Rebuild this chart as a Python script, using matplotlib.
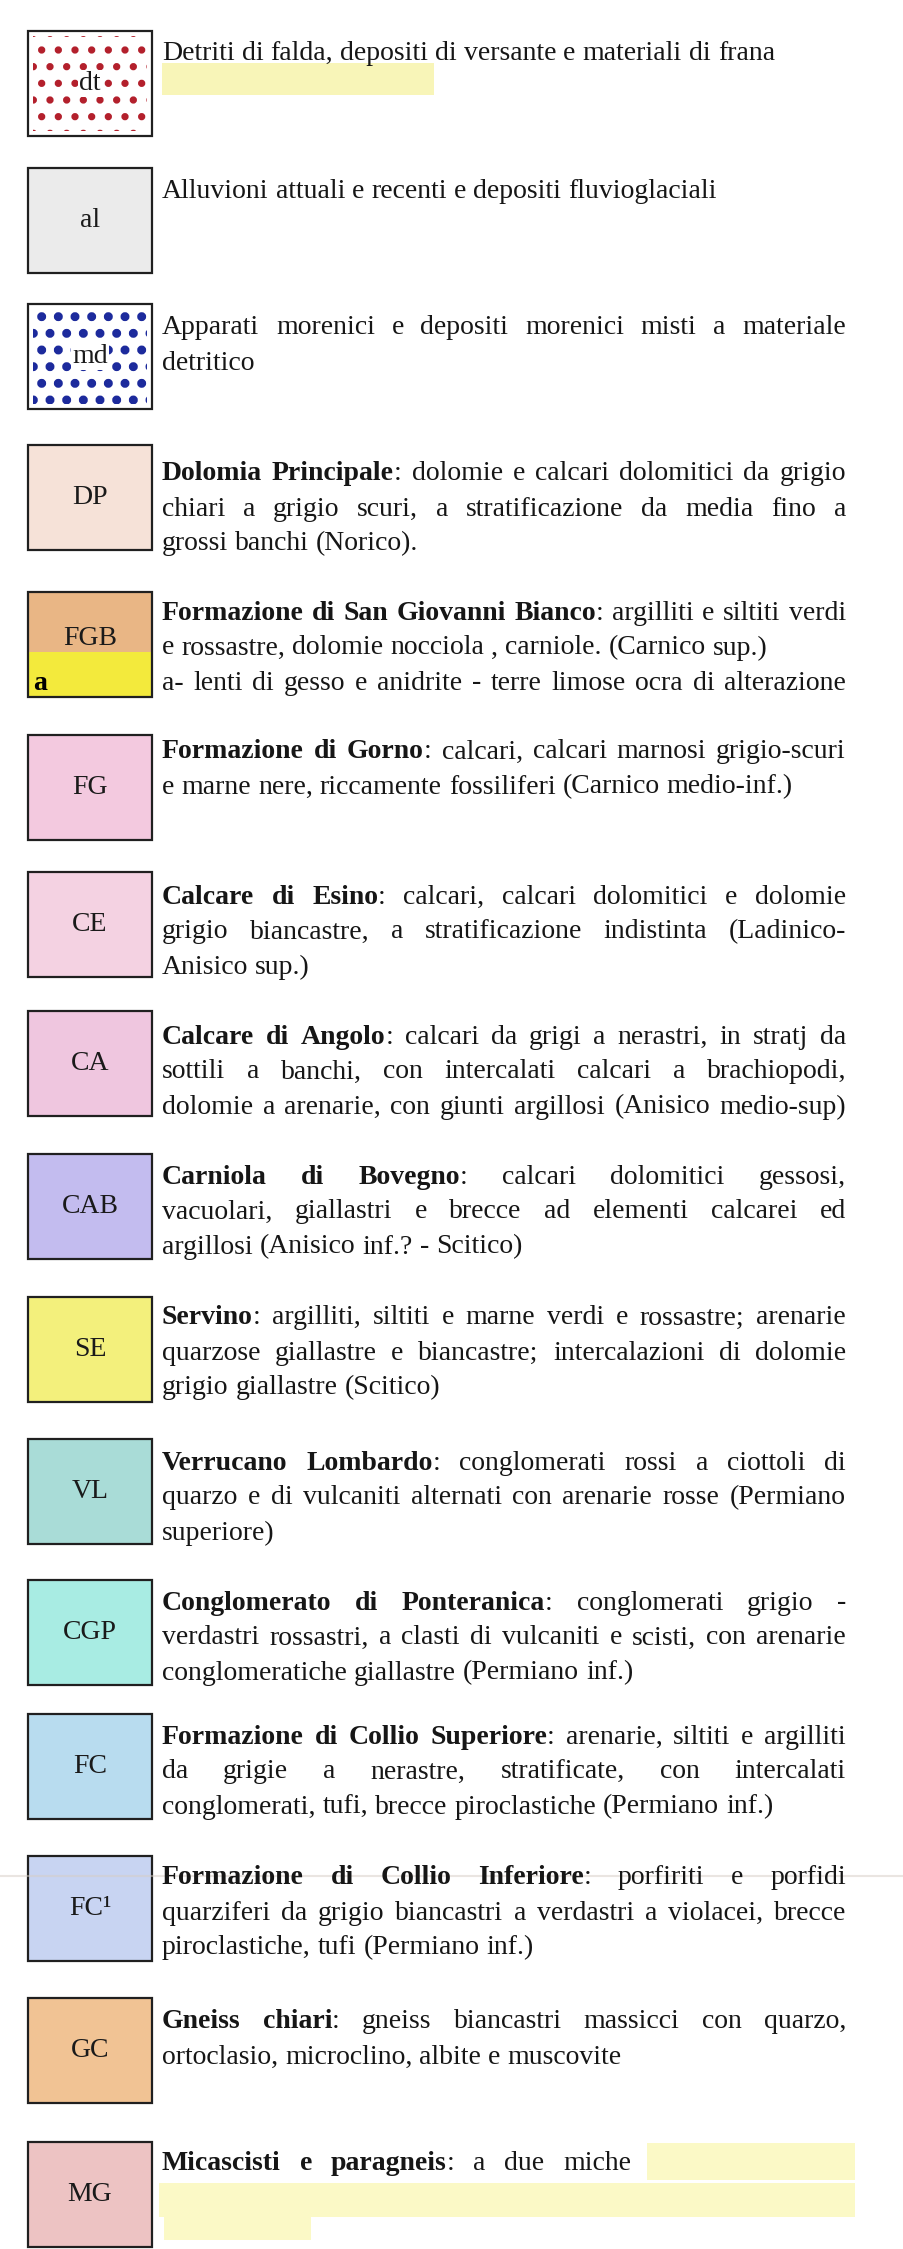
import matplotlib
matplotlib.use("Agg")
import matplotlib.pyplot as plt
from matplotlib.patches import Rectangle

# legend entries (geological units)
codes = ["dt", "al", "md", "DP", "FGB", "FG", "CE", "CA", "CAB", "SE",
         "VL", "CGP", "FC", "FC\u00b9", "GC", "MG"]

colors = ["white", "#ebebeb", "white", "#f6e2d8", "#e9b685", "#f3c9df",
          "#f4d2e2", "#efc6df", "#c3bcef", "#f3f07c", "#a9dcd7", "#a8ece3",
          "#b8dcef", "#c8d4f2", "#f1c394", "#edc3c3"]

# lines of text; **..** = bold, trailing "|" = justified line
texts = [
    ["Detriti di falda, depositi di versante e materiali di frana"],
    ["Alluvioni attuali e recenti e depositi fluvioglaciali"],
    ["Apparati morenici e depositi morenici  misti a materiale|",
     "detritico"],
    ["**Dolomia Principale**: dolomie e calcari dolomitici da grigio|",
     "chiari a grigio scuri, a stratificazione da media fino a|",
     "grossi banchi (Norico)."],
    ["**Formazione di San Giovanni Bianco**: argilliti e siltiti verdi|",
     "e rossastre, dolomie nocciola , carniole. (Carnico sup.)",
     "a- lenti di gesso e anidrite - terre limose ocra di alterazione|"],
    ["**Formazione di Gorno**: calcari, calcari marnosi grigio-scuri|",
     "e marne nere, riccamente fossiliferi  (Carnico medio-inf.)"],
    ["**Calcare di Esino**: calcari, calcari dolomitici e dolomie|",
     "grigio biancastre, a stratificazione indistinta (Ladinico-|",
     "Anisico sup.)"],
    ["**Calcare di Angolo**: calcari da grigi a nerastri, in stratj da|",
     "sottili a banchi, con intercalati calcari a brachiopodi,|",
     "dolomie a arenarie, con giunti argillosi (Anisico medio-sup)|"],
    ["**Carniola di Bovegno**: calcari dolomitici gessosi,|",
     "vacuolari, giallastri e brecce ad elementi calcarei ed|",
     "argillosi  (Anisico inf.? - Scitico)"],
    ["**Servino**: argilliti, siltiti e marne verdi e rossastre; arenarie|",
     "quarzose giallastre e biancastre; intercalazioni di dolomie|",
     "grigio giallastre (Scitico)"],
    ["**Verrucano Lombardo**: conglomerati rossi a ciottoli di|",
     "quarzo e di vulcaniti alternati con arenarie rosse (Permiano|",
     "superiore)"],
    ["**Conglomerato di Ponteranica**: conglomerati grigio -|",
     "verdastri rossastri, a clasti di vulcaniti e scisti, con arenarie|",
     "conglomeratiche giallastre (Permiano inf.)"],
    ["**Formazione di Collio Superiore**: arenarie, siltiti e argilliti|",
     "da grigie a nerastre, stratificate, con intercalati|",
     "conglomerati, tufi, brecce piroclastiche  (Permiano inf.)"],
    ["**Formazione di Collio Inferiore**: porfiriti e porfidi|",
     "quarziferi da grigio biancastri a verdastri a violacei, brecce|",
     "piroclastiche, tufi (Permiano inf.)"],
    ["**Gneiss chiari**: gneiss biancastri massicci con quarzo,|",
     "ortoclasio, microclino, albite e muscovite"],
    ["**Micascisti e paragneis**: a due miche|"],
]

# layout (pixels)
box_top = [31, 168, 304, 445, 592, 735, 872, 1011, 1154, 1297,
           1439, 1580, 1714, 1856, 1998, 2142]
first_line = [22, 24, 24, 29, 21, 17, 25, 26, 23, 21, 24, 23, 23, 22, 24, 22]
box_x, box_w, box_h = 28, 124, 105
text_x, text_right = 162, 846
line_gap = 35
FONT = "Liberation Serif"
FS = 20

fig = plt.figure(figsize=(9.04, 22.49), dpi=100)
ax = fig.add_axes([0, 0, 1, 1])
ax.set_xlim(0, 904)
ax.set_ylim(2249, 0)
ax.axis("off")
renderer = fig.canvas.get_renderer()


def parse(line):
    just = line.endswith("|")
    line = line.rstrip("|")
    words, cur, buf, bold = [], [], "", False
    i = 0
    while i < len(line):
        if line[i:i + 2] == "**":
            if buf:
                cur.append((buf, bold))
                buf = ""
            bold = not bold
            i += 2
            continue
        if line[i] == " ":
            if buf:
                cur.append((buf, bold))
                buf = ""
            if cur:
                words.append(cur)
                cur = []
        else:
            buf += line[i]
        i += 1
    if buf:
        cur.append((buf, bold))
    if cur:
        words.append(cur)
    return words, just


def width_of(s, bold):
    t = ax.text(0, 0, s, fontsize=FS, family=FONT,
                fontweight="bold" if bold else "normal")
    w = t.get_window_extent(renderer).width
    t.remove()
    return w


space_w = width_of("x x", False) - width_of("xx", False)


def draw_line(y, line, right=text_right):
    words, just = parse(line)
    wlens = [sum(width_of(s, b) for s, b in w) for w in words]
    gap = space_w
    if just and len(words) > 1:
        gap = (right - text_x - sum(wlens)) / (len(words) - 1)
    x = text_x
    for w, wl in zip(words, wlens):
        xx = x
        for s, b in w:
            ax.text(xx, y, s, fontsize=FS, family=FONT, va="center",
                    ha="left", fontweight="bold" if b else "normal",
                    color="#161616")
            xx += width_of(s, b)
        x += wl + gap


for i, code in enumerate(codes):
    top = box_top[i]
    if code == "FGB":
        ax.add_patch(Rectangle((box_x, top), box_w, 60, facecolor=colors[i],
                               edgecolor="none"))
        ax.add_patch(Rectangle((box_x, top + 60), box_w, box_h - 60,
                               facecolor="#f3ea3c", edgecolor="none"))
        ax.text(box_x + 12, top + 92, "a", fontsize=FS, family=FONT,
                fontweight="bold", va="center", ha="center")
    else:
        ax.add_patch(Rectangle((box_x, top), box_w, box_h,
                               facecolor=colors[i], edgecolor="none"))
    if code == "dt":
        plt.rcParams["hatch.linewidth"] = 2.8
        ax.add_patch(Rectangle((box_x + 5, top + 5), box_w - 10, box_h - 10,
                               facecolor="none", edgecolor="#b3202c",
                               hatch=".", linewidth=0))
    if code == "md":
        plt.rcParams["hatch.linewidth"] = 4.0
        ax.add_patch(Rectangle((box_x + 5, top + 5), box_w - 10, box_h - 10,
                               facecolor="none", edgecolor="#1c2a9c",
                               hatch=".", linewidth=0))
    ax.add_patch(Rectangle((box_x, top), box_w, box_h, facecolor="none",
                           edgecolor="#202020", linewidth=1.6))
    lab_y = top + box_h / 2 - (6 if code == "FGB" else 0)
    ax.text(box_x + box_w / 2, lab_y, code, fontsize=FS, family=FONT,
            va="center", ha="center", color="#1a1a1a",
            bbox=dict(facecolor=colors[i], edgecolor="none", pad=0.5)
            if code in ("dt", "md") else None)

    lines = texts[i]
    for j, line in enumerate(lines):
        y = top + first_line[i] + j * line_gap
        right = 631 if code == "MG" else text_right
        draw_line(y, line, right)

# yellow highlighter marks over erased text
ax.add_patch(Rectangle((162, 63), 272, 32, facecolor="#f7f3a6",
                       edgecolor="none", alpha=0.8))
ax.add_patch(Rectangle((647, 2143), 208, 37, facecolor="#fbf8b8",
                       edgecolor="none", alpha=0.8))
ax.add_patch(Rectangle((159, 2183), 696, 34, facecolor="#fbf8b8",
                       edgecolor="none", alpha=0.8))
ax.add_patch(Rectangle((164, 2217), 147, 23, facecolor="#fbf8b8",
                       edgecolor="none", alpha=0.8))

# scanner streak
ax.axhline(1876, color="#d6cdc4", linewidth=1.5, alpha=0.5)

fig.savefig("out.png", dpi=100)
